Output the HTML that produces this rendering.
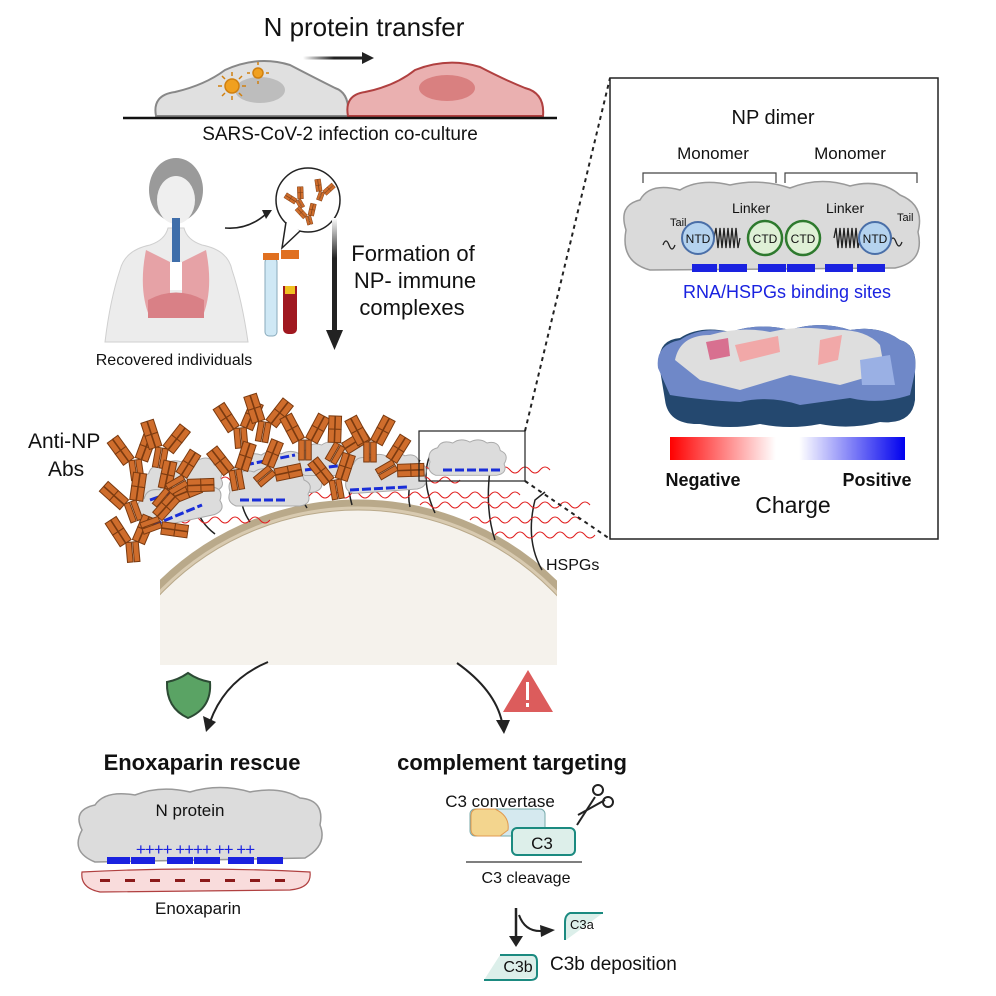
<!DOCTYPE html>
<html><head><meta charset="utf-8"><style>
html,body{margin:0;padding:0;background:#fff;overflow:hidden;width:996px;height:996px}
svg{display:block}
text{font-family:"Liberation Sans",Arial,sans-serif;fill:#111}
</style></head><body>
<svg width="996" height="996" viewBox="0 0 996 996" xmlns="http://www.w3.org/2000/svg">
<defs>
<g id="ab">
 <g fill="#cf6d2c" stroke="#7a3a10" stroke-width="0.8">
  <rect x="-5" y="0" width="4.5" height="16"/><rect x="0.5" y="0" width="4.5" height="16"/>
  <g transform="rotate(-28)"><rect x="-10" y="-24" width="5" height="11"/><rect x="-10" y="-13" width="5" height="11"/><rect x="-4.5" y="-24" width="5" height="11"/><rect x="-4.5" y="-13" width="5" height="11"/></g>
  <g transform="rotate(28)"><rect x="5" y="-24" width="5" height="11"/><rect x="5" y="-13" width="5" height="11"/><rect x="-0.5" y="-24" width="5" height="11"/><rect x="-0.5" y="-13" width="5" height="11"/></g>
 </g>
</g>
<g id="np">
 <path d="M0 20 Q-4 8 8 5 Q12 -4 24 0 Q32 -6 42 -1 Q52 -6 60 0 Q72 -3 74 8 Q84 12 78 22 Q82 32 70 34 L6 34 Q-4 30 0 20Z" fill="#dcdcdc" stroke="#aaa" stroke-width="1"/>
</g>
<linearGradient id="chg" x1="0" x2="1">
 <stop offset="0" stop-color="#ff0000"/><stop offset="0.45" stop-color="#fff"/><stop offset="0.55" stop-color="#fff"/><stop offset="1" stop-color="#0000ee"/>
</linearGradient>
<linearGradient id="arrg" x1="0" y1="0" x2="0" y2="1">
 <stop offset="0" stop-color="#fff"/><stop offset="0.35" stop-color="#222"/><stop offset="1" stop-color="#222"/>
</linearGradient>
<linearGradient id="arrh" x1="0" x2="1">
 <stop offset="0" stop-color="#fff"/><stop offset="0.5" stop-color="#222"/>
</linearGradient>
<clipPath id="cellclip"><rect x="160" y="0" width="397" height="665"/></clipPath>
</defs>

<!-- Top -->
<text x="364" y="36" font-size="26" text-anchor="middle">N protein transfer</text>
<rect x="303" y="56.5" width="62" height="3" fill="url(#arrh)"/>
<path d="M362 52 L374 58 L362 64Z" fill="#222"/>
<path d="M156 116 Q152 95 175 92 Q205 85 225 70 Q258 55 290 65 Q315 78 335 88 Q350 93 348 116Z" fill="#e0e0e0" stroke="#888" stroke-width="2"/>
<ellipse cx="260" cy="90" rx="25" ry="13" fill="#bdbdbd"/>
<g fill="#f0a020" stroke="#d08010" stroke-width="1.5">
 <circle cx="232" cy="86" r="7"/><circle cx="258" cy="73" r="5"/>
 <path d="M232 76 v-4 M232 96 v4 M222 86 h-4 M242 86 h4 M225 79 l-3 -3 M239 93 l3 3 M239 79 l3 -3 M225 93 l-3 3 M258 65 v-3 M258 81 v3 M250 73 h-3 M266 73 h3" fill="none"/>
</g>
<path d="M348 116 Q344 95 365 92 Q395 86 415 70 Q448 57 480 67 Q505 80 525 88 Q545 93 543 116Z" fill="#eab0b0" stroke="#b04040" stroke-width="2"/>
<ellipse cx="447" cy="88" rx="28" ry="13" fill="#d98080"/>
<line x1="123" y1="118" x2="557" y2="118" stroke="#111" stroke-width="2.5"/>
<text x="340" y="140" font-size="19" text-anchor="middle">SARS-CoV-2 infection co-culture</text>

<!-- person -->
<path d="M105 342 Q110 300 120 270 Q125 250 150 245 Q165 240 168 228 L184 228 Q187 240 202 245 Q228 250 232 270 Q242 300 248 342Z" fill="#ececec" stroke="#cfcfcf"/>
<ellipse cx="176" cy="190" rx="27" ry="32" fill="#9a9a9a"/>
<ellipse cx="176" cy="200" rx="19" ry="24" fill="#efefef"/>
<path d="M146 250 Q138 290 150 318 L170 315 L170 262Z M206 250 Q214 290 202 318 L182 315 L182 262Z" fill="#e6a2a6"/>
<path d="M148 300 Q176 285 204 300 L204 318 L148 318Z" fill="#d98086"/>
<rect x="172" y="218" width="8" height="48" fill="#3f6eaa"/>
<rect x="170" y="262" width="12" height="28" fill="#fff"/>
<text x="174" y="365" font-size="16" text-anchor="middle">Recovered individuals</text>
<path d="M225 228 Q248 230 266 214" fill="none" stroke="#222" stroke-width="1.6"/>
<path d="M262 210 L272 210 L266 219Z" fill="#222"/>
<circle cx="308" cy="200" r="32" fill="#fff" stroke="#222" stroke-width="1.5"/>
<path d="M286 222 L282 248 L300 231" fill="#fff" stroke="#222" stroke-width="1.5"/>
<use href="#ab" transform="translate(298,200) rotate(-30) scale(0.55)"/>
<use href="#ab" transform="translate(322,192) rotate(20) scale(0.55)"/>
<use href="#ab" transform="translate(308,216) rotate(-15) scale(0.55)"/>
<rect x="265" y="258" width="12" height="78" rx="4" fill="#cfe8f5" stroke="#8ab"/>
<rect x="263" y="253" width="16" height="7" fill="#e07020"/>
<rect x="283" y="258" width="14" height="76" rx="5" fill="#a01820"/>
<rect x="283" y="258" width="14" height="28" fill="#fff"/>
<rect x="285" y="286" width="10" height="8" fill="#f0c020"/>
<rect x="281" y="250" width="18" height="9" fill="#e07020"/>

<!-- arrow -->
<rect x="332" y="218" width="5" height="115" fill="url(#arrg)"/>
<path d="M326 330 L343 330 L334.5 350Z" fill="#222"/>
<text font-size="22" text-anchor="middle"><tspan x="413" y="261">Formation of</tspan><tspan x="415" y="288">NP- immune</tspan><tspan x="412" y="315">complexes</tspan></text>

<!-- big cell -->
<g clip-path="url(#cellclip)">
 <circle cx="358" cy="784" r="279" fill="#f5f2ec" stroke="#b9a98a" stroke-width="11"/>
 <circle cx="358" cy="784" r="276" fill="none" stroke="#d8cab0" stroke-width="3"/>
</g>

<!-- HSPG lines & RNA -->
<g fill="none" stroke="#222" stroke-width="1.5">
 <path d="M215 534 Q190 515 200 490"/><path d="M250 522 Q235 500 245 475"/>
 <path d="M307 508 Q295 490 300 465"/><path d="M352 505 Q345 480 352 460"/>
 <path d="M410 507 Q405 485 420 460"/><path d="M435 513 Q420 480 430 455"/>
 <path d="M495 540 Q485 510 490 470"/><path d="M542 570 Q525 540 535 500 L545 492"/>
</g>
<g fill="none" stroke="#e02020" stroke-width="1">
 <path d="M150 520 q5 -6 10 0 t10 0 t10 0 t10 0 t10 0 t10 0 t10 0 t10 0 t10 0 t10 0 t10 0 t10 0"/>
 <path d="M180 480 q5 -6 10 0 t10 0 t10 0 t10 0 t10 0 t10 0 t10 0 t10 0 t10 0 t10 0 t10 0 t10 0 t10 0 t10 0 t10 0 t10 0 t10 0 t10 0 t10 0 t10 0 t10 0 t10 0 t10 0 t10 0 t10 0 t10 0 t10 0 t10 0"/>
 <path d="M230 495 q5 -6 10 0 t10 0 t10 0 t10 0 t10 0 t10 0 t10 0 t10 0 t10 0 t10 0 t10 0 t10 0 t10 0 t10 0 t10 0 t10 0 t10 0 t10 0 t10 0 t10 0 t10 0 t10 0 t10 0 t10 0 t10 0 t10 0 t10 0 t10 0 t10 0"/>
 <path d="M300 470 q5 -6 10 0 t10 0 t10 0 t10 0 t10 0 t10 0 t10 0 t10 0 t10 0 t10 0 t10 0 t10 0 t10 0 t10 0 t10 0 t10 0 t10 0 t10 0 t10 0 t10 0 t10 0 t10 0 t10 0 t10 0 t10 0"/>
 <path d="M420 505 q5 -6 10 0 t10 0 t10 0 t10 0 t10 0 t10 0 t10 0 t10 0 t10 0 t10 0 t10 0 t10 0 t10 0 t10 0 t10 0 t10 0 t10 0"/>
 <path d="M470 520 q5 -6 10 0 t10 0 t10 0 t10 0 t10 0 t10 0 t10 0 t10 0 t10 0 t10 0 t10 0"/>
 <path d="M495 535 q5 -6 10 0 t10 0 t10 0 t10 0 t10 0 t10 0 t10 0 t10 0 t10 0 t10 0"/>
</g>
<!-- NPs -->
<use href="#np" transform="translate(140,470) rotate(-10) scale(1.0)"/>
<use href="#np" transform="translate(135,495) rotate(-12) scale(1.05)"/>
<use href="#np" transform="translate(235,455) scale(1.1)"/>
<use href="#np" transform="translate(230,472) scale(1.0)"/>
<use href="#np" transform="translate(300,445) scale(0.9)"/>
<use href="#np" transform="translate(345,460) rotate(-4) scale(1.0)"/>
<use href="#np" transform="translate(430,443) scale(0.95)"/>
<g stroke="#1a2ed8" stroke-width="3" stroke-dasharray="9 3" fill="none">
 <path d="M142 530 L202 505"/><path d="M150 500 L202 482"/>
 <path d="M240 500 L285 500"/><path d="M245 465 L295 455"/>
 <path d="M305 470 L345 465"/><path d="M350 490 L408 487"/>
 <path d="M443 470 L500 470"/>
</g>
<!-- Antibodies -->
<g>
<use href="#ab" transform="translate(135,460) rotate(-8) scale(1.25)"/>
<use href="#ab" transform="translate(162,448) rotate(10) scale(1.25)"/>
<use href="#ab" transform="translate(130,502) rotate(-20) scale(1.25)"/>
<use href="#ab" transform="translate(170,492) rotate(40) scale(1.25)"/>
<use href="#ab" transform="translate(185,480) rotate(60) scale(1.2)"/>
<use href="#ab" transform="translate(132,542) rotate(-5) scale(1.25)"/>
<use href="#ab" transform="translate(160,522) rotate(70) scale(1.2)"/>
<use href="#ab" transform="translate(240,428) rotate(-5) scale(1.25)"/>
<use href="#ab" transform="translate(265,422) rotate(10) scale(1.25)"/>
<use href="#ab" transform="translate(235,470) rotate(-10) scale(1.25)"/>
<use href="#ab" transform="translate(272,470) rotate(50) scale(1.2)"/>
<use href="#ab" transform="translate(305,440) rotate(0) scale(1.25)"/>
<use href="#ab" transform="translate(340,445) rotate(30) scale(1.2)"/>
<use href="#ab" transform="translate(335,480) rotate(-10) scale(1.2)"/>
<use href="#ab" transform="translate(370,442) rotate(0) scale(1.25)"/>
<use href="#ab" transform="translate(395,465) rotate(60) scale(1.2)"/>
</g>
<rect x="419" y="431" width="106" height="50" fill="none" stroke="#222" stroke-width="1.2"/>
<text font-size="21"><tspan x="28" y="448">Anti-NP</tspan><tspan x="48" y="476">Abs</tspan></text>
<text x="546" y="570" font-size="16">HSPGs</text>

<!-- dashed connectors -->
<line x1="525" y1="431" x2="610" y2="78" stroke="#222" stroke-width="2" stroke-dasharray="4 4"/>
<line x1="525" y1="481" x2="610" y2="539" stroke="#222" stroke-width="2" stroke-dasharray="4 4"/>

<!-- Right panel -->
<rect x="610" y="78" width="328" height="461" fill="#fff" stroke="#222" stroke-width="1.5"/>
<text x="773" y="124" font-size="20" text-anchor="middle">NP dimer</text>
<text x="713" y="159" font-size="17" text-anchor="middle">Monomer</text>
<text x="850" y="159" font-size="17" text-anchor="middle">Monomer</text>
<path d="M643 183 V173 H776 V183 M785 183 V173 H917 V183" fill="none" stroke="#444" stroke-width="1.2"/>
<path d="M626 230 Q618 205 640 200 Q650 182 680 190 Q700 178 730 185 Q760 178 790 188 Q820 176 850 186 Q880 178 900 195 Q925 205 918 232 Q925 262 895 268 L650 270 Q620 262 626 230Z" fill="#dadada" stroke="#999" stroke-width="1.5"/>
<text x="670" y="226" font-size="11">Tail</text>
<text x="897" y="221" font-size="11">Tail</text>
<text x="732" y="213" font-size="14">Linker</text>
<text x="826" y="213" font-size="14">Linker</text>
<path d="M663 245 q3 -8 6 0 t6 0" fill="none" stroke="#222" stroke-width="1.3"/>
<path d="M890 242 q3 -8 6 0 t6 0" fill="none" stroke="#222" stroke-width="1.3"/>
<path d="M714 238 l2 -10 l2 20 l2 -20 l2 20 l2 -20 l2 20 l2 -20 l2 20 l2 -20 l2 20 l2 -20 l2 20 l2 -10 M834 238 l2 -10 l2 20 l2 -20 l2 20 l2 -20 l2 20 l2 -20 l2 20 l2 -20 l2 20 l2 -20 l2 20 l2 -10" fill="none" stroke="#222" stroke-width="1.3"/>
<circle cx="698" cy="238" r="16" fill="#b5d3ef" stroke="#4a6fa8" stroke-width="2"/>
<circle cx="765" cy="238" r="17" fill="#dff0d6" stroke="#2e7a2e" stroke-width="2.5"/>
<circle cx="803" cy="238" r="17" fill="#dff0d6" stroke="#2e7a2e" stroke-width="2.5"/>
<circle cx="875" cy="238" r="16" fill="#b5d3ef" stroke="#4a6fa8" stroke-width="2"/>
<g font-size="12" text-anchor="middle"><text x="698" y="243">NTD</text><text x="765" y="243">CTD</text><text x="803" y="243">CTD</text><text x="875" y="243">NTD</text></g>
<g fill="#1a22e0"><rect x="692" y="264" width="25" height="8"/><rect x="719" y="264" width="28" height="8"/><rect x="758" y="264" width="28" height="8"/><rect x="787" y="264" width="28" height="8"/><rect x="825" y="264" width="28" height="8"/><rect x="857" y="264" width="28" height="8"/></g>
<text x="787" y="298" font-size="18" text-anchor="middle" style="fill:#1a22e0">RNA/HSPGs binding sites</text>
<!-- charge blob -->
<path d="M660 370 Q655 340 680 338 Q700 325 730 332 Q760 322 790 330 Q820 320 850 330 Q880 325 900 340 Q918 345 915 370 L915 400 Q912 425 880 422 Q850 430 820 424 Q790 430 760 424 Q730 430 700 424 Q668 425 665 400Z" fill="#24486f"/>
<path d="M658 368 Q655 345 680 340 Q700 326 730 332 Q760 322 790 330 Q820 320 850 330 Q880 325 900 340 Q918 345 915 372 L910 395 Q880 405 850 398 L800 405 Q770 395 740 402 Q700 400 670 395Z" fill="#6f88c8"/>
<path d="M675 360 Q680 335 710 335 Q740 326 770 332 Q800 325 830 330 Q865 328 880 345 L885 372 L840 385 L790 375 L740 390 L700 380Z" fill="#dedede"/>
<path d="M706 342 L728 338 L730 356 L710 360Z" fill="#d87090"/>
<path d="M735 345 L778 336 L780 352 L740 362Z" fill="#f1a8a8"/>
<path d="M820 340 L842 335 L838 360 L818 365Z" fill="#f1a8a8"/>
<path d="M860 360 L890 355 L895 385 L862 385Z" fill="#9ab0e4"/>
<rect x="670" y="437" width="235" height="23" fill="url(#chg)"/>
<text x="703" y="486" font-size="18" font-weight="bold" text-anchor="middle">Negative</text>
<text x="877" y="486" font-size="18" font-weight="bold" text-anchor="middle">Positive</text>
<text x="793" y="513" font-size="23" text-anchor="middle">Charge</text>

<!-- bottom left -->
<path d="M268 662 Q225 680 210 722" fill="none" stroke="#222" stroke-width="2"/>
<path d="M203 716 L216 722 L206 732Z" fill="#222"/>
<path d="M167 682 Q178 680 188 673 Q198 680 210 682 Q212 708 188 718 Q166 708 167 682Z" fill="#5aa364" stroke="#2c4a34" stroke-width="2"/>
<text x="202" y="770" font-size="22" font-weight="bold" text-anchor="middle">Enoxaparin rescue</text>
<path d="M82 830 Q72 810 95 805 Q105 790 135 795 Q160 785 190 792 Q220 783 250 792 Q280 786 300 798 Q325 800 320 825 Q328 845 305 858 L95 862 Q70 852 82 830Z" fill="#dcdcdc" stroke="#999" stroke-width="1.5"/>
<text x="190" y="816" font-size="17" text-anchor="middle">N protein</text>
<text x="195" y="855" font-size="17" text-anchor="middle" style="fill:#1a22e0" letter-spacing="-1">++++   ++++   ++ ++</text>
<g fill="#1a22e0"><rect x="107" y="857" width="23" height="7"/><rect x="131" y="857" width="24" height="7"/><rect x="167" y="857" width="26" height="7"/><rect x="194" y="857" width="26" height="7"/><rect x="228" y="857" width="26" height="7"/><rect x="257" y="857" width="26" height="7"/></g>
<path d="M82 872 Q195 866 310 872 Q312 888 290 890 L100 892 Q80 888 82 872Z" fill="#f9dcdc" stroke="#b04040" stroke-width="1.2"/>
<g fill="#8b1a1a"><rect x="100" y="879" width="10" height="3"/><rect x="125" y="879" width="10" height="3"/><rect x="150" y="879" width="10" height="3"/><rect x="175" y="879" width="10" height="3"/><rect x="200" y="879" width="10" height="3"/><rect x="225" y="879" width="10" height="3"/><rect x="250" y="879" width="10" height="3"/><rect x="275" y="879" width="10" height="3"/></g>
<text x="198" y="914" font-size="17" text-anchor="middle">Enoxaparin</text>

<!-- bottom right -->
<path d="M457 663 Q495 690 502 722" fill="none" stroke="#222" stroke-width="2"/>
<path d="M496 720 L510 720 L504 734Z" fill="#222"/>
<path d="M528 670 L553 712 L503 712Z" fill="#dc5c5c"/>
<rect x="526" y="682" width="3" height="18" fill="#fff"/><rect x="526" y="703" width="3" height="4" fill="#fff"/>
<text x="512" y="770" font-size="22" font-weight="bold" text-anchor="middle">complement targeting</text>
<text x="500" y="807" font-size="17" text-anchor="middle">C3 convertase</text>
<rect x="470" y="809" width="75" height="27" rx="5" fill="#d5e9ef" stroke="#7aa" stroke-width="1"/>
<path d="M478 809 L495 809 Q510 816 508 830 L500 836 L478 836 Q471 836 471 829 L471 816 Q471 809 478 809Z" fill="#f3d58e" stroke="#e09a50"/>
<rect x="512" y="828" width="63" height="27" rx="5" fill="#ddefea" stroke="#1b8a80" stroke-width="2"/>
<text x="542" y="849" font-size="17" text-anchor="middle">C3</text>
<g stroke="#222" stroke-width="2" fill="none"><line x1="578" y1="815" x2="605" y2="800"/><line x1="577" y1="825" x2="595" y2="797"/><circle cx="598" cy="790" r="5"/><circle cx="608" cy="802" r="5"/></g>
<line x1="466" y1="862" x2="582" y2="862" stroke="#555" stroke-width="1.5"/>
<text x="526" y="883" font-size="16" text-anchor="middle">C3 cleavage</text>
<line x1="516" y1="908" x2="516" y2="938" stroke="#222" stroke-width="2.5"/>
<path d="M509 936 L523 936 L516 947Z" fill="#222"/>
<path d="M519 915 Q525 932 542 931" fill="none" stroke="#222" stroke-width="2"/>
<path d="M540 925 L555 930 L541 937Z" fill="#222"/>
<path d="M567 913 L603 913 L566 940 Q562 930 567 913Z" fill="#dcefea"/>
<path d="M603 913 L570 913 Q565 915 565 922 L565 940" fill="none" stroke="#1b8a80" stroke-width="2"/>
<text x="570" y="929" font-size="13">C3a</text>
<path d="M500 955 L536 955 L536 978 L484 980Z" fill="#dcefea"/>
<path d="M500 955 L532 955 Q537 955 537 962 L537 975 Q537 980 530 980 L484 980" fill="none" stroke="#1b8a80" stroke-width="2"/>
<text x="518" y="972" font-size="16" text-anchor="middle">C3b</text>
<text x="550" y="970" font-size="19">C3b deposition</text>
</svg>
</body></html>
